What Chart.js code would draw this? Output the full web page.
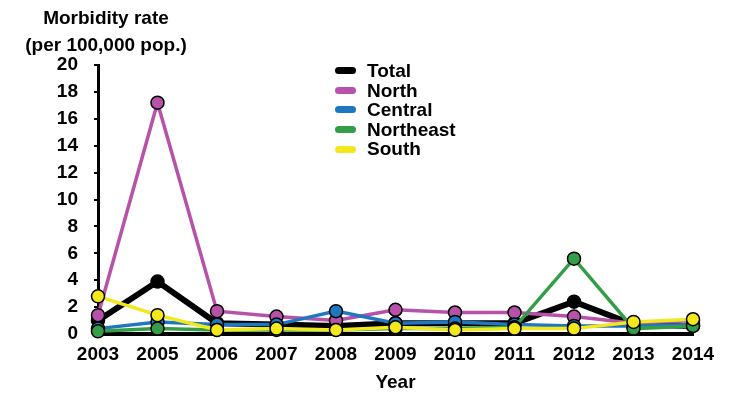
<!DOCTYPE html>
<html>
<head>
<meta charset="utf-8">
<script src="https://cdn.jsdelivr.net/npm/chart.js@4/dist/chart.umd.min.js"></script>
<style>
    body { margin: 0; background: #fff; font-family: "Liberation Sans", Arial, sans-serif; }
    #wrap { position: relative; width: 750px; height: 400px; }
    #ytitle { position: absolute; left: 0; top: 4px; width: 212px; text-align: center; font-weight: bold; font-size: 19px; line-height: 27px; color: #000; }
    #legend { position: absolute; left: 335px; top: 61px; font-weight: bold; font-size: 19px; line-height: 19.6px; color: #000; }
    #legend div { display: flex; align-items: center; }
    #legend span.sw { display: inline-block; width: 21px; height: 7px; border-radius: 3.5px; margin-right: 11px; }
</style>
</head>
<body>
<div id="wrap">
    <canvas id="c" width="750" height="400"></canvas>
    <div id="ytitle">Morbidity rate<br>(per 100,000 pop.)</div>
    <div id="legend"></div>
</div>
<script>
const years = ['2003', '2005', '2006', '2007', '2008', '2009', '2010', '2011', '2012', '2013', '2014'];
const total = [1.0, 3.9, 0.8, 0.7, 0.6, 0.8, 0.8, 0.8, 2.4, 0.7, 0.6];
const north = [1.4, 17.2, 1.7, 1.3, 1.0, 1.8, 1.6, 1.6, 1.3, 0.8, 1.0];
const central = [0.4, 0.9, 0.7, 0.7, 1.7, 0.8, 0.9, 0.7, 0.6, 0.6, 0.7];
const northeast = [0.2, 0.4, 0.3, 0.3, 0.3, 0.4, 0.4, 0.5, 5.6, 0.4, 0.6];
const south = [2.8, 1.4, 0.3, 0.4, 0.3, 0.5, 0.3, 0.4, 0.4, 0.9, 1.1];
const yTicks = [0, 2, 4, 6, 8, 10, 12, 14, 16, 18, 20];

const series = [
    { label: 'Total', data: total, color: '#000000', width: 6, order: 5 },
    { label: 'North', data: north, color: '#b752a8', width: 3.5, order: 4 },
    { label: 'Central', data: central, color: '#1f77bf', width: 3.5, order: 3 },
    { label: 'Northeast', data: northeast, color: '#339e47', width: 3.5, order: 2 },
    { label: 'South', data: south, color: '#f2e81c', width: 3.5, order: 1 }
];

const font = { family: '"Liberation Sans", Arial, sans-serif', size: 19, weight: 'bold' };

new Chart(document.getElementById('c'), {
    type: 'line',
    data: {
        labels: years,
        datasets: series.map(s => ({
            label: s.label,
            data: s.data,
            borderColor: s.color,
            backgroundColor: s.color,
            borderWidth: s.width,
            pointRadius: 6.5,
            pointBorderColor: '#000',
            pointBorderWidth: 1.5,
            pointBackgroundColor: s.color,
            tension: 0,
            clip: false,
            order: s.order
        }))
    },
    options: {
        responsive: false,
        animation: false,
        layout: { padding: { top: 65, right: 57, left: 0, bottom: 0 } },
        plugins: { legend: { display: false }, tooltip: { enabled: false } },
        scales: {
            x: {
                offset: false,
                border: { color: '#000', width: 4 },
                grid: { display: false },
                ticks: { color: '#000', font, padding: 1, maxRotation: 0, autoSkip: false },
                title: { display: true, text: 'Year', color: '#000', font, padding: { top: 6, bottom: 6 } },
                afterFit: s => { s.height = 66; }
            },
            y: {
                min: 0, max: 20,
                afterBuildTicks: s => { s.ticks = yTicks.map(v => ({ value: v })); },
                border: { color: '#000', width: 3 },
                grid: { drawOnChartArea: false, color: '#000', lineWidth: 2, tickLength: 4 },
                ticks: { color: '#000', font, padding: 16 },
                afterFit: s => { s.width = 98; }
            }
        }
    }
});

const leg = document.getElementById('legend');
series.forEach(s => {
    const row = document.createElement('div');
    const sw = document.createElement('span');
    sw.className = 'sw';
    sw.style.background = s.color;
    row.append(sw, document.createTextNode(s.label));
    leg.appendChild(row);
});
</script>
</body>
</html>
